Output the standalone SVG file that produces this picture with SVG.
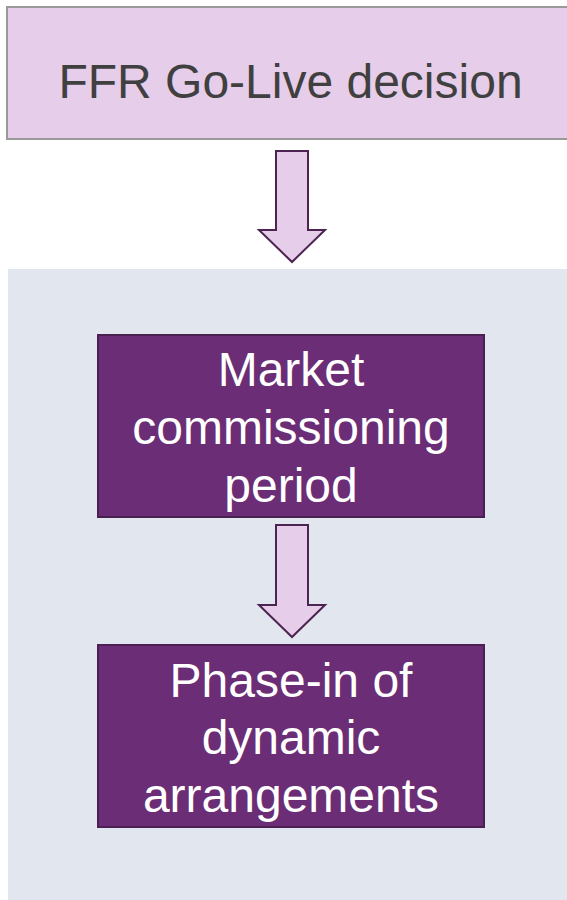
<svg xmlns="http://www.w3.org/2000/svg" width="567" height="900" viewBox="0 0 567 900">
<style>
  .lbl{font-family:'Liberation Sans',Arial,Helvetica,sans-serif;font-size:48px;text-anchor:middle}
  .dark{fill:#404040}
  .light{fill:#ffffff}
  .step{fill:#6B2D75;stroke:#4A1F52;stroke-width:2}
  .arrow{fill:#E6CDE9;stroke:#4D2352;stroke-width:2;stroke-linejoin:miter}
</style>
<rect x="0" y="0" width="567" height="900" fill="#ffffff"/>
<rect id="panel" x="8" y="269" width="560" height="631" fill="#E1E6EF"/>
<g id="go-live">
  <rect x="7" y="7" width="570" height="132" fill="#E6CDE9" stroke="#999999" stroke-width="2"/>
  <text class="lbl dark" x="290.5" y="98">FFR Go-Live decision</text>
</g>
<g id="commissioning">
  <rect class="step" x="98" y="335" width="386" height="182"/>
  <text class="lbl light" x="291" y="386">Market</text>
  <text class="lbl light" x="291" y="444">commissioning</text>
  <text class="lbl light" x="291" y="502">period</text>
</g>
<g id="phase-in">
  <rect class="step" x="98" y="645" width="386" height="182"/>
  <text class="lbl light" x="291" y="697">Phase-in of</text>
  <text class="lbl light" x="291" y="754">dynamic</text>
  <text class="lbl light" x="291" y="812">arrangements</text>
</g>
<g id="connectors">
  <path class="arrow" d="M276,151 H308 V230 H325 L292,262 L259,230 H276 Z"/>
  <path class="arrow" d="M276,525 H308 V605 H325 L292,637 L259,605 H276 Z"/>
</g>
</svg>
